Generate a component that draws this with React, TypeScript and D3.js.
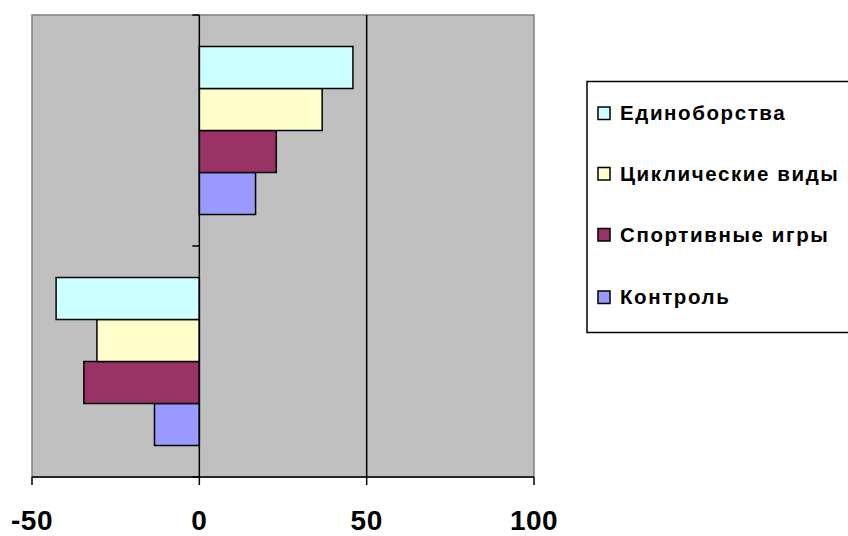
import React from "react";
import * as d3 from "d3";

const categories = ["A", "B"];
const seriesNames = ["Контроль", "Спортивные игры", "Циклические виды", "Единоборства"];
const seriesColors = ["#9999FF", "#993366", "#FFFFCC", "#CCFFFF"];
const valuesA = [16.8, 23, 36.7, 45.9];
const valuesB = [-13.4, -34.5, -30.6, -42.8];
const xTicks = [-50, 0, 50, 100];

const W = 848;
const H = 536;
const plot = { left: 32, right: 534, top: 15, bottom: 477 };

export default function App() {
  const x = d3.scaleLinear().domain([-50, 100]).range([plot.left, plot.right]);
  const y = d3
    .scaleBand<string>()
    .domain(categories)
    .range([plot.top, plot.bottom]);
  const bw = y.bandwidth();
  const barH = bw / 5.5;
  const inner = d3
    .scaleBand<number>()
    .domain([3, 2, 1, 0])
    .range([bw / 2 - 2 * barH, bw / 2 + 2 * barH]);
  const data = [valuesA, valuesB];
  const legendOrder = [3, 2, 1, 0];
  const legendBase = [120, 180.5, 241.5, 304];

  return (
    <svg
      width={W}
      height={H}
      style={{ position: "absolute", left: 0, top: 0, fontFamily: "Arial, 'Liberation Sans', sans-serif" }}
    >
      <rect x={0} y={0} width={W} height={H} fill="#fff" />
      <rect
        x={plot.left}
        y={plot.top}
        width={plot.right - plot.left}
        height={plot.bottom - plot.top}
        fill="#C0C0C0"
        stroke="#808080"
        strokeWidth={1.5}
      />
      {/* gridline at 50 */}
      <line x1={x(50)} x2={x(50)} y1={plot.top} y2={plot.bottom} stroke="#000" strokeWidth={1.5} />
      {/* bars */}
      {categories.map((c, ci) => (
        <g key={c} transform={`translate(0,${y(c)})`}>
          {data[ci].map((v, si) => (
            <rect
              key={si}
              x={Math.min(x(0), x(v))}
              y={inner(si)}
              width={Math.abs(x(v) - x(0))}
              height={inner.bandwidth()}
              fill={seriesColors[si]}
              stroke="#000"
              strokeWidth={1.5}
            />
          ))}
        </g>
      ))}
      {/* zero axis */}
      <line x1={x(0)} x2={x(0)} y1={plot.top} y2={plot.bottom} stroke="#000" strokeWidth={1.5} />
      {[plot.top, y("B") as number, plot.bottom].map((t, i) => (
        <line key={i} x1={x(0) - 7} x2={x(0)} y1={t} y2={t} stroke="#000" strokeWidth={1.5} />
      ))}
      {/* x axis */}
      <line x1={plot.left} x2={plot.right} y1={plot.bottom} y2={plot.bottom} stroke="#000" strokeWidth={1.5} />
      {xTicks.map((t) => (
        <g key={t}>
          <line x1={x(t)} x2={x(t)} y1={plot.bottom} y2={plot.bottom + 8} stroke="#000" strokeWidth={1.5} />
          <text
            x={x(t)}
            y={530}
            textAnchor="middle"
            fontSize={28}
            fontWeight="bold"
            letterSpacing={0.5}
            fill="#000"
          >
            {t}
          </text>
        </g>
      ))}
      {/* legend */}
      <rect x={587} y={81.5} width={280} height={251} fill="#fff" stroke="#000" strokeWidth={1.5} />
      {legendOrder.map((si, i) => (
        <g key={si}>
          <rect
            x={598}
            y={legendBase[i] - 13}
            width={12}
            height={12.5}
            fill={seriesColors[si]}
            stroke="#000"
            strokeWidth={1.5}
          />
          <text
            x={620}
            y={legendBase[i]}
            fontSize={20.5}
            fontWeight="bold"
            letterSpacing={1.6}
            fill="#000"
          >
            {seriesNames[si]}
          </text>
        </g>
      ))}
    </svg>
  );
}
